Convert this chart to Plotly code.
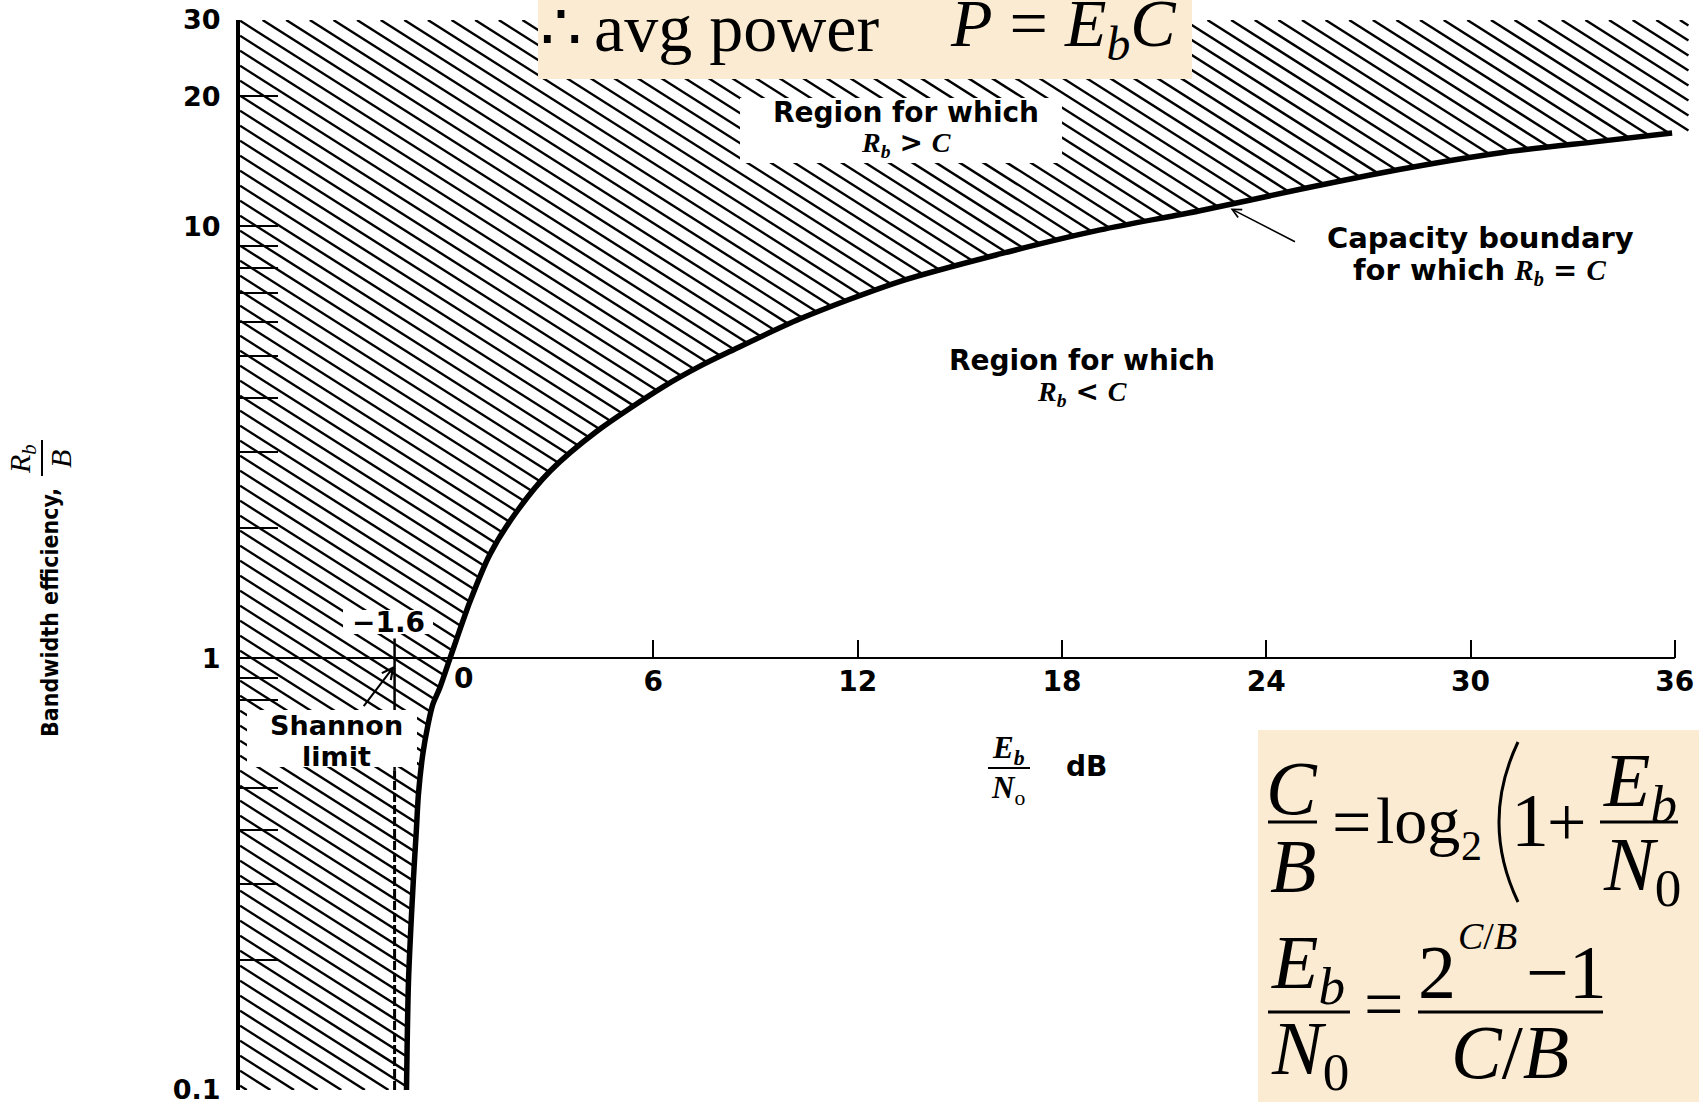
import numpy as np
import plotly.graph_objects as go

# capacity boundary R_b = C (Eb/N0 in dB, Rb/B)
curve_db = [-1.25, -1.19, -1.05, -0.96, -0.9, -0.77, -0.62, -0.48, -0.28, 0.03, 0.62,
            1.2, 2.0, 2.97, 4.34, 6.3, 7.37, 8.26, 10.31, 13.25, 16.18, 19.12, 22.05,
            24.96, 27.9, 30.84, 33.77, 35.92]
curve_ratio = [0.1, 0.18, 0.305, 0.4, 0.484, 0.6, 0.70, 0.78, 0.85, 1.0, 1.355,
               1.738, 2.19, 2.71, 3.35, 4.25, 4.74, 5.13, 6.1, 7.45, 8.62, 9.8, 10.85,
               12.15, 13.52, 14.77, 15.71, 16.43]

shannon_db = -1.6
x_ticks = [6, 12, 18, 24, 30, 36]
y_tick_vals = [0.1, 0.2, 0.3, 0.4, 0.5, 0.8, 0.9, 1, 2, 3, 4, 5, 6, 7, 8, 9, 10, 20, 30]
y_tick_text = ["0.1", "", "", "", "", "", "", "1", "", "", "", "", "", "", "", "", "10", "20", "30"]

# page geometry (pixels)
L, R, T, B = 240, 1699, 20, 1090
W, H = R - L, B - T
XR = [-6.14, 36.71]
YR = [-1, np.log10(30)]

SANS = "DejaVu Sans"
SERIF = "Liberation Serif, Times New Roman, serif"
NARROW = "DejaVu Sans Condensed, Liberation Sans Narrow, Roboto Condensed, Arial"
BEIGE = "#FBEBD2"


def px(x):
    return (x - L) / W


def py(y):
    return (B - y) / H


# hatching above / left of the boundary
px_per_db = W / (XR[1] - XR[0])
px_per_dec = H / (YR[1] - YR[0])
slope = -0.635 * px_per_db / px_per_dec
step = 15 / px_per_dec
x_stop = 36.4
log_curve = np.log10(curve_ratio)

hx, hy = [], []
c = YR[0] + 0.01
while c < YR[1] - slope * (x_stop - XR[0]):
    x0 = XR[0] if c <= YR[1] else XR[0] + (YR[1] - c) / slope
    if x0 < x_stop:
        xs = np.linspace(x0, x_stop, 4000)
        g = c + slope * (xs - XR[0]) - np.interp(xs, curve_db, log_curve)
        idx = np.where(g <= 0)[0]
        if len(idx) == 0:
            x1 = x_stop
        elif idx[0] == 0:
            x1 = x0
        else:
            i = idx[0]
            x1 = xs[i - 1] + (xs[i] - xs[i - 1]) * g[i - 1] / (g[i - 1] - g[i])
        if x1 > x0:
            hx += [x0, x1, None]
            hy += [10 ** (c + slope * (x0 - XR[0])), 10 ** (c + slope * (x1 - XR[0])), None]
    c += step

fig = go.Figure()
fig.add_trace(go.Scatter(x=hx, y=hy, mode="lines", line=dict(color="black", width=2.4),
                         hoverinfo="skip"))
fig.add_trace(go.Scatter(x=curve_db, y=curve_ratio, mode="lines",
                         line=dict(color="black", width=5.5, shape="spline", smoothing=0.8)))
# horizontal axis line at Rb/B = 1
fig.add_trace(go.Scatter(x=[XR[0], 36], y=[1, 1], mode="lines", line=dict(color="black", width=2)))
# Shannon limit line
fig.add_trace(go.Scatter(x=[shannon_db, shannon_db], y=[0.55, 1.11], mode="lines",
                         line=dict(color="black", width=2.5)))
fig.add_trace(go.Scatter(x=[shannon_db, shannon_db], y=[0.1, 0.55], mode="lines",
                         line=dict(color="black", width=3, dash="9px,3px")))

shapes = []
# white label boxes
for x0, y0, x1, y1 in [(247, 710, 417, 767), (343, 610, 433, 634), (740, 98, 1062, 163)]:
    shapes.append(dict(type="rect", xref="paper", yref="paper", x0=px(x0), x1=px(x1),
                       y0=py(y1), y1=py(y0), fillcolor="white", line=dict(width=0), layer="above"))
# beige slide boxes
for x0, y0, x1, y1 in [(538, 0, 1192, 79), (1258, 730, 1699, 1102)]:
    shapes.append(dict(type="rect", xref="paper", yref="paper", x0=px(x0), x1=px(x1),
                       y0=py(y1), y1=py(y0), fillcolor=BEIGE, line=dict(width=0), layer="above"))
# fraction bars
for x0, x1, y, w in [(988, 1030, 768, 2), (1268, 1317, 822, 3), (1600, 1678, 822, 3),
                     (1268, 1350, 1012, 3), (1418, 1603, 1012, 3)]:
    shapes.append(dict(type="line", xref="paper", yref="paper", x0=px(x0), x1=px(x1),
                       y0=py(y), y1=py(y), line=dict(color="black", width=w), layer="above"))
shapes.append(dict(type="line", xref="paper", yref="paper", x0=px(42), x1=px(42),
                   y0=py(476), y1=py(440), line=dict(color="black", width=2), layer="above"))
# big bracket of log2( ... )
shapes.append(dict(type="path", xref="paper", yref="paper", layer="above",
                   path="M %f,%f Q %f,%f %f,%f" % (px(1518), py(742), px(1480), py(822),
                                                   px(1518), py(902)),
                   line=dict(color="black", width=3)))

ann = []


def label(text, x, y, size, family=SANS, angle=0):
    ann.append(dict(text=text, x=px(x), y=py(y), xref="paper", yref="paper", showarrow=False,
                    xanchor="center", yanchor="middle", textangle=angle,
                    font=dict(family=family, size=size, color="black")))


RB = '<span style="font-family:Liberation Serif"><b><i>R</i></b><sub><b><i>b</i></b></sub></span>'
CI = '<span style="font-family:Liberation Serif"><b><i>C</i></b></span>'

label("<b>−1.6</b>", 388, 622, 28)
label("<b>Shannon</b>", 336, 725, 27)
label("<b>limit</b>", 336, 756, 27)
label("<b>0</b>", 463, 678, 28)
label("<b>Region for which</b>", 906, 112, 28)
label(RB + " <b>&gt;</b> " + CI, 906, 144, 28)
label("<b>Region for which</b>", 1082, 360, 28)
label(RB + " <b>&lt;</b> " + CI, 1082, 393, 28)
label("<b>Capacity boundary</b>", 1480, 238, 29)
label("<b>for which</b> " + RB + " <b>=</b> " + CI, 1480, 271, 29)
label('<span style="font-family:Liberation Serif"><b><i>E</i></b><sub><b><i>b</i></b></sub></span>', 1008, 750, 31)
label('<span style="font-family:Liberation Serif"><b><i>N</i></b><sub>o</sub></span>', 1008, 790, 31)
label("<b>dB</b>", 1086, 767, 28)

# y axis title
label("<b>Bandwidth efficiency,</b>", 50, 612, 23, NARROW, -90)
label("<i>R</i><sub><i>b</i></sub>", 22, 459, 30, SERIF, -90)
label("<i>B</i>", 60, 459, 30, SERIF, -90)

# slide text, top box
label("∴", 561, 28, 66, SERIF)
label("avg power", 736, 28, 68, SERIF)
label("<i>P</i> = <i>E</i><sub><i>b</i></sub><i>C</i>", 1063, 28, 68, SERIF)

# slide text, bottom box
label("<i>C</i>", 1292, 788, 76, SERIF)
label("<i>B</i>", 1293, 866, 76, SERIF)
label("=", 1351, 822, 70, SERIF)
label("log", 1418, 820, 66, SERIF)
label("2", 1471, 846, 42, SERIF)
label("1", 1530, 820, 76, SERIF)
label("+", 1566, 822, 70, SERIF)
label("<i>E</i><sub><i>b</i></sub>", 1640, 786, 76, SERIF)
label("<i>N</i><sub>0</sub>", 1642, 870, 76, SERIF)
label("<i>E</i><sub><i>b</i></sub>", 1308, 968, 76, SERIF)
label("<i>N</i><sub>0</sub>", 1310, 1054, 76, SERIF)
label("=", 1383, 1004, 70, SERIF)
label("2", 1437, 972, 76, SERIF)
label("<i>C</i>/<i>B</i>", 1487, 936, 38, SERIF)
label("−1", 1566, 972, 76, SERIF)
label("<i>C</i>/<i>B</i>", 1510, 1052, 76, SERIF)

# arrows
ann.append(dict(x=22.95, y=float(np.interp(22.95, curve_db, log_curve)) - 0.01, xref="x", yref="y",
                ax=66, ay=34, text="", showarrow=True, arrowhead=5, arrowsize=1.1,
                arrowwidth=1.6, arrowcolor="black"))
ann.append(dict(x=shannon_db, y=np.log10(0.96), xref="x", yref="y", ax=-32, ay=42, text="",
                showarrow=True, arrowhead=5, arrowsize=1.1, arrowwidth=2, arrowcolor="black"))

fig.update_layout(
    width=1699, height=1110,
    margin=dict(l=L, r=1699 - R, t=T, b=1110 - B, pad=0),
    paper_bgcolor="white", plot_bgcolor="white",
    showlegend=False,
    shapes=shapes,
    annotations=ann,
    xaxis=dict(range=XR, anchor="free", position=(0 - YR[0]) / (YR[1] - YR[0]),
               tickvals=x_ticks, ticks="inside", ticklen=18, tickwidth=2, tickcolor="black",
               showline=False, showgrid=False, zeroline=False,
               tickfont=dict(family=SANS, size=28, color="black", weight=700),
               ticklabelstandoff=4),
    yaxis=dict(type="log", range=YR, tickvals=y_tick_vals, ticktext=y_tick_text,
               ticks="inside", ticklen=38, tickwidth=2, tickcolor="black",
               showline=True, linewidth=4, linecolor="black", showgrid=False, zeroline=False,
               tickfont=dict(family=SANS, size=27, color="black", weight=700),
               ticklabelstandoff=10),
)

fig.write_html("out.html", config={"displayModeBar": False},
               post_script="document.body.style.margin='0px';")
